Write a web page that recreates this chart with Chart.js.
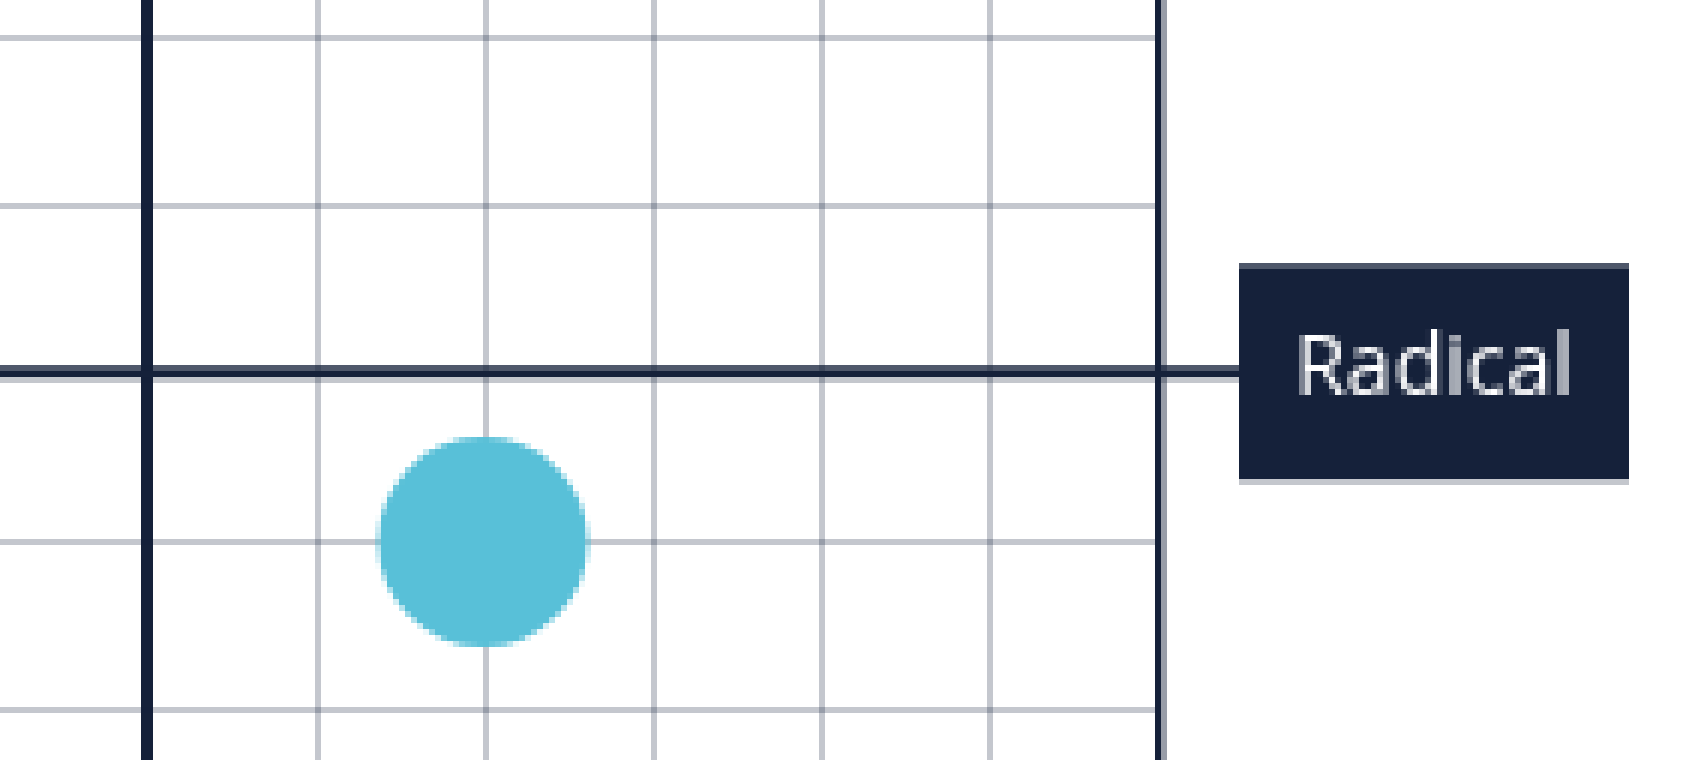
<!DOCTYPE html>
<html lang="en">
<head>
  <meta charset="UTF-8" />
  <title>Compass detail</title>
  <script src="https://cdn.jsdelivr.net/npm/chart.js"></script>
  <style>
    html, body {
      margin: 0;
      padding: 0;
      width: 1700px;
      height: 760px;
      overflow: hidden;
      background: #fff;
    }

    /* chart is drawn small and blown up 6x, like the reference */
    #myChart {
      position: absolute;
      left: -33px;
      top: -145px;
      width: 1734px !important;
      height: 1050px !important;
      image-rendering: pixelated;
    }
  </style>
</head>
<body>
  <canvas id="myChart" width="289" height="175"></canvas>

  <script>
    const xTicks = [-1, 0, 1, 2, 3, 4, 5, 6];
    const yTicks = [-3, -2, -1, 0, 1, 2, 3];
    const pointX = [2];
    const pointY = [-1];
    const edgeLabel = 'Radical';

    const navy = '#15213a';
    const gridColor = 'rgba(21, 33, 58, 0.25)';
    const xMax = xTicks[xTicks.length - 1];

    // zero line running out past the plot into the dark label box
    const edgeLine = {
      id: 'edgeLine',
      beforeDatasetsDraw(chart) {
        const { ctx, chartArea, scales } = chart;
        const yZero = scales.y.getPixelForValue(0) - 0.25;
        const rightEdge = scales.x.getPixelForValue(xMax);

        ctx.save();
        ctx.fillStyle = 'rgba(21, 33, 58, 0.44)';
        ctx.fillRect(rightEdge + 1, chartArea.top, 1, chartArea.bottom - chartArea.top);

        ctx.font = '14px "Open Sans", sans-serif';
        const boxW = Math.round(ctx.measureText(edgeLabel).width) + 18;
        const boxH = 36;
        const boxL = Math.round(rightEdge) + 14;

        ctx.strokeStyle = navy;
        ctx.lineWidth = 2;
        ctx.beginPath();
        ctx.moveTo(chartArea.left, yZero);
        ctx.lineTo(boxL + 1, yZero);
        ctx.stroke();

        ctx.fillStyle = navy;
        ctx.fillRect(boxL, yZero - boxH / 2, boxW, boxH);

        ctx.fillStyle = '#fff';
        ctx.textAlign = 'center';
        ctx.textBaseline = 'middle';
        ctx.fillText(edgeLabel, boxL + boxW / 2, yZero - 0.5);
        ctx.restore();
      }
    };

    const ctx = document.getElementById('myChart').getContext('2d');

    new Chart(ctx, {
      type: 'scatter',
      data: {
        datasets: [{
          data: pointX.map((x, i) => ({ x: x, y: pointY[i] })),
          backgroundColor: '#58c0d8',
          borderWidth: 0,
          pointRadius: 17.5,
          pointHoverRadius: 17.5
        }]
      },
      options: {
        responsive: false,
        devicePixelRatio: 1,
        animation: false,
        events: [],
        layout: {
          autoPadding: false,
          padding: { left: 2, top: 2.5, right: 91, bottom: 4.5 }
        },
        scales: {
          x: {
            type: 'linear',
            min: xTicks[0],
            max: xMax,
            ticks: { display: false },
            border: { display: false },
            afterBuildTicks: s => { s.ticks = xTicks.map(v => ({ value: v })); },
            afterFit: s => { s.height = 0; },
            grid: {
              drawTicks: false,
              color: c => (c.tick && (c.tick.value === 0 || c.tick.value === xMax)) ? navy : gridColor,
              lineWidth: c => (c.tick && c.tick.value === 0) ? 2 : 1
            }
          },
          y: {
            type: 'linear',
            min: yTicks[0],
            max: yTicks[yTicks.length - 1],
            ticks: { display: false },
            border: { display: false },
            afterBuildTicks: s => { s.ticks = yTicks.map(v => ({ value: v })); },
            afterFit: s => { s.width = 0; },
            grid: {
              drawTicks: false,
              color: gridColor,
              lineWidth: 1
            }
          }
        },
        plugins: {
          legend: { display: false },
          tooltip: { enabled: false }
        }
      },
      plugins: [edgeLine]
    });
  </script>
</body>
</html>
